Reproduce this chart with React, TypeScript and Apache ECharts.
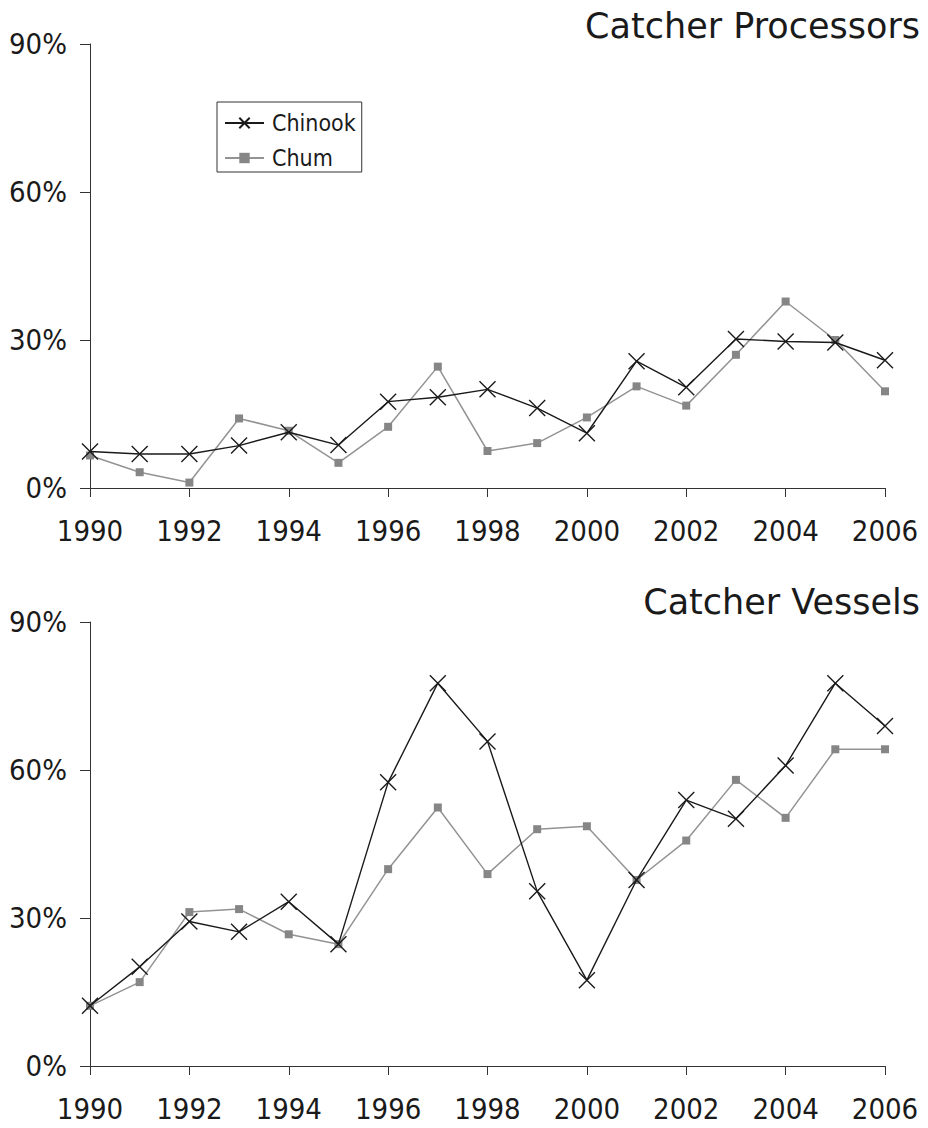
import React, { useEffect, useRef } from "react";
import * as echarts from "echarts";

const years = ["1990","1991","1992","1993","1994","1995","1996","1997","1998","1999","2000","2001","2002","2003","2004","2005","2006"];
const cpChinook = [7.4, 6.9, 6.9, 8.6, 11.3, 8.7, 17.5, 18.4, 20.0, 16.2, 11.1, 25.7, 20.4, 30.2, 29.7, 29.5, 25.9];
const cpChum = [6.6, 3.2, 1.1, 14.1, 11.6, 5.1, 12.4, 24.6, 7.5, 9.1, 14.3, 20.6, 16.7, 27.0, 37.8, 30.0, 19.6];
const cvChinook = [12.2, 20.1, 29.3, 27.2, 33.3, 24.7, 57.5, 77.6, 65.8, 35.4, 17.4, 37.7, 53.9, 50.1, 60.9, 77.6, 68.9];
const cvChum = [12.2, 17.0, 31.2, 31.8, 26.7, 24.7, 39.9, 52.4, 38.9, 48.0, 48.6, 37.7, 45.7, 58.0, 50.3, 64.2, 64.2];
const titles = ["Catcher Processors", "Catcher Vessels"];
const yTicks = { min: 0, max: 90, interval: 30 };

const FONT = "'DejaVu Sans Condensed', 'DejaVu Sans', sans-serif";
const TFONT = "'DejaVu Sans', sans-serif";
const XSYM = "path://M0,0L10,10M10,0L0,10";

export default function App() {
  const ref = useRef<HTMLDivElement>(null);
  useEffect(() => {
    document.body.style.margin = "0";
    const chart = echarts.init(ref.current!, null, { renderer: "svg" });
    const xAxes = [0, 1].map((gi) => ({
      gridIndex: gi,
      type: "category",
      data: years,
      boundaryGap: false,
      axisLine: { lineStyle: { color: "#333", width: 1 } },
      axisTick: { length: 9, interval: 1, alignWithLabel: true, lineStyle: { color: "#333" } },
      axisLabel: { interval: 1, fontSize: 29, color: "#1a1a1a", fontFamily: FONT, margin: 28 },
      splitLine: { show: false },
    }));
    const yAxes = [0, 1].map((gi) => ({
      gridIndex: gi,
      type: "value",
      min: yTicks.min,
      max: yTicks.max,
      interval: yTicks.interval,
      axisLine: { show: true, lineStyle: { color: "#333", width: 1 } },
      axisTick: { show: true, length: 10, lineStyle: { color: "#333" } },
      axisLabel: { fontSize: 29, color: "#1a1a1a", fontFamily: FONT, margin: 23, formatter: "{value}%" },
      splitLine: { show: false },
    }));
    const mk = (name: string, data: number[], gi: number, chinook: boolean) => ({
      name,
      type: "line",
      xAxisIndex: gi,
      yAxisIndex: gi,
      data,
      symbol: chinook ? XSYM : "rect",
      symbolSize: chinook ? 16 : 8,
      lineStyle: { color: chinook ? "#1a1a1a" : "#939393", width: chinook ? 1.4 : 1.5 },
      itemStyle: chinook
        ? { color: "rgba(0,0,0,0)", borderColor: "#1a1a1a", borderWidth: 1.4 }
        : { color: "#868686", borderWidth: 0 },
      z: chinook ? 3 : 2,
    });
    chart.setOption({
      animation: false,
      backgroundColor: "#fff",
      textStyle: { fontFamily: FONT },
      title: [
        { text: titles[0], right: 3, top: 3, textStyle: { fontSize: 35, fontWeight: "normal", color: "#1a1a1a", fontFamily: TFONT } },
        { text: titles[1], right: 3, top: 579, textStyle: { fontSize: 35, fontWeight: "normal", color: "#1a1a1a", fontFamily: TFONT } },
      ],
      legend: {
        left: 217,
        top: 102,
        orient: "vertical",
        borderColor: "#333",
        borderWidth: 1,
        borderRadius: 0,
        padding: [9, 6, 2, 7],
        itemGap: 11,
        itemWidth: 39,
        itemHeight: 13,
        data: ["Chinook", "Chum"],
        textStyle: { fontSize: 23, lineHeight: 24, color: "#1a1a1a", fontFamily: FONT, padding: [0, 0, 0, 3] },
      },
      grid: [
        { left: 90, right: 43, top: 44, height: 444 },
        { left: 90, right: 43, top: 622, height: 444 },
      ],
      xAxis: xAxes,
      yAxis: yAxes,
      series: [
        mk("Chinook", cpChinook, 0, true),
        mk("Chum", cpChum, 0, false),
        mk("Chinook", cvChinook, 1, true),
        mk("Chum", cvChum, 1, false),
      ],
    } as any);
    return () => chart.dispose();
  }, []);
  return <div ref={ref} style={{ width: 928, height: 1128 }} />;
}
